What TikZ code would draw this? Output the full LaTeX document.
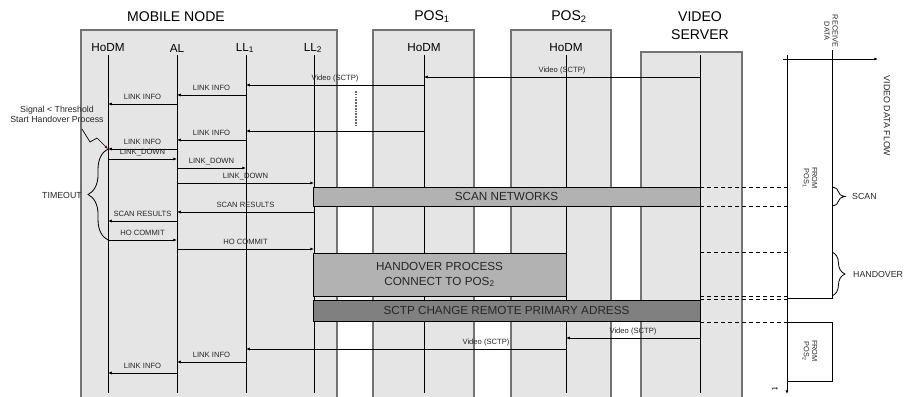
\documentclass[tikz,border=0pt]{standalone}
\usepackage{fontspec}
\setmainfont{Liberation Sans}
\usetikzlibrary{arrows.meta,decorations.pathreplacing}

\begin{document}
\begin{tikzpicture}[
    x=0.03cm,
    y=-0.03cm,
    >={Latex[length=3.2pt,width=2.6pt]},
    actor/.style={
        font=\fontsize{12}{15.4}\selectfont,
        align=center,
        inner sep=0pt
    },
    lifehead/.style={
        font=\fontsize{10}{11}\selectfont,
        inner sep=0pt
    },
    entity/.style={
        draw=black!55,
        line width=1.3pt,
        fill=black!10
    },
    lifeline/.style={
        line width=0.8pt
    },
    msg/.style={
        ->,
        line width=0.7pt
    },
    msglabel/.style={
        font=\fontsize{6.5}{7}\selectfont,
        text=black!85,
        inner sep=0pt,
        anchor=base,
        yshift=4pt
    },
    phasebox/.style={
        draw,
        line width=0.8pt
    },
    phasetext/.style={
        font=\fontsize{10}{12.8}\selectfont,
        align=center,
        text=black!85,
        inner sep=0pt
    },
    remark/.style={
        font=\fontsize{7.5}{8.5}\selectfont,
        align=center,
        text=black!85,
        inner sep=0pt
    },
    vlabel/.style={
        font=\fontsize{6.3}{7}\selectfont,
        align=center,
        text=black!85,
        rotate=-90,
        inner sep=0pt
    },
    flow/.style={
        dashed,
        line width=0.7pt
    },
    pause/.style={
        densely dotted,
        line width=1.4pt,
        black!60
    },
    timebrace/.style={
        decorate,
        decoration={brace, amplitude=#1},
        line width=0.7pt
    }
]

\useasboundingbox (0,0) rectangle (904,397);

\draw[entity] (81,30) rectangle (337,402);
\draw[entity] (373,30) rectangle (474,402);
\draw[entity] (511,30) rectangle (611,402);
\draw[entity] (641,52) rectangle (742,402);

\node[actor] (mobile) at (176,17) {MOBILE NODE};
\node[actor] (pos1) at (432,17) {POS\textsubscript{1}};
\node[actor] (pos2) at (569,17) {POS\textsubscript{2}};
\node[actor] (server) at (700,26) {VIDEO\\SERVER};

\coordinate (hodm) at (108,55);
\coordinate (al) at (177,55);
\coordinate (ll1) at (246,55);
\coordinate (ll2) at (314,55);
\coordinate (hodmA) at (424,55);
\coordinate (hodmB) at (566,55);
\coordinate (vs) at (700,55);

\node[lifehead] (hodmlbl) at (108,48) {HoDM};
\node[lifehead] (allbl) at (177,48) {AL};
\node[lifehead] (ll1lbl) at (245,48) {LL\textsubscript{1}};
\node[lifehead] (ll2lbl) at (313,48) {LL\textsubscript{2}};
\node[lifehead] (hodmAlbl) at (424,48) {HoDM};
\node[lifehead] (hodmBlbl) at (566,48) {HoDM};

\foreach \p in {hodm,al,ll1,ll2,hodmA,hodmB,vs}
    \draw[lifeline] (\p) -- (\p |- 0,393);

\draw[phasebox, fill=black!30] (313,187) rectangle (700,206);
\node[phasetext] (scan) at (506.5,196.5) {SCAN NETWORKS};

\draw[phasebox, fill=black!30] (313,253) rectangle (566,296);
\node[phasetext] (handover) at (439.5,274.5)
{HANDOVER PROCESS\\CONNECT TO POS\textsubscript{2}};

\draw[phasebox, fill=black!50] (313,300) rectangle (700,321);
\node[phasetext] (sctp) at (506.5,310.5)
{SCTP CHANGE REMOTE PRIMARY ADRESS};

\draw[msg] (vs |- 0,77) -- node[msglabel] {Video (SCTP)} (hodmA |- 0,77);
\draw[msg] (hodmA |- 0,85) -- node[msglabel] {Video (SCTP)} (ll1 |- 0,85);
\draw[msg] (ll1 |- 0,95) -- node[msglabel] {LINK INFO} (al |- 0,95);
\draw[msg] (al |- 0,104) -- node[msglabel] {LINK INFO} (hodm |- 0,104);

\draw[pause] (356,91) -- (356,125);

\draw[msg] (hodmA |- 0,131) -- (ll1 |- 0,131);
\draw[msg] (ll1 |- 0,140) -- node[msglabel] {LINK INFO} (al |- 0,140);
\draw[msg] (al |- 0,149) -- node[msglabel] {LINK INFO} (hodm |- 0,149);
\draw[msg] (hodm |- 0,159) -- node[msglabel] {LINK\_DOWN} (al |- 0,159);
\draw[msg] (al |- 0,168) -- node[msglabel] {LINK\_DOWN} (ll1 |- 0,168);
\draw[msg] (al |- 0,183) -- node[msglabel] {LINK\_DOWN} (ll2 |- 0,183);
\draw[msg] (ll2 |- 0,212) -- node[msglabel] {SCAN RESULTS} (al |- 0,212);
\draw[msg] (al |- 0,221) -- node[msglabel] {SCAN RESULTS} (hodm |- 0,221);
\draw[msg] (hodm |- 0,240) -- node[msglabel] {HO COMMIT} (al |- 0,240);
\draw[msg] (al |- 0,249) -- node[msglabel] {HO COMMIT} (ll2 |- 0,249);

\draw[msg] (vs |- 0,338) -- node[msglabel] {Video (SCTP)} (hodmB |- 0,338);
\draw[msg] (hodmB |- 0,349) -- node[msglabel, pos=0.25] {Video (SCTP)} (ll1 |- 0,349);
\draw[msg] (ll1 |- 0,362) -- node[msglabel] {LINK INFO} (al |- 0,362);
\draw[msg] (al |- 0,373) -- node[msglabel] {LINK INFO} (hodm |- 0,373);

\node[remark] (signal) at (57,114) {Signal < Threshold\\Start Handover Process};
\coordinate (zigstart) at (82,129);
\draw[-{Latex[length=3pt,width=2.6pt,color=red!60!black]}, line width=0.6pt]
(zigstart) -- (90,142) -- (97,138) -- (hodm |- 0,149);

\draw[timebrace=17pt] (hodm |- 0,240) -- (hodm |- 0,149);
\node[remark] (timeout) at (62,195) {TIMEOUT};

\coordinate (tTop) at (787,55);
\coordinate (tEnd) at (787,394);
\coordinate (fStart) at (783,59);
\coordinate (fEnd) at (878,59);
\coordinate (recvTop) at (832,50);

\foreach \y in {187,206,252,296,299,322}
    \draw[flow] (vs |- 0,\y) -- (tTop |- 0,\y);

\draw[->, line width=0.8pt] (tTop) -- (tEnd);
\draw[->, line width=0.8pt] (fStart) -- (fEnd);
\draw[line width=0.8pt] (recvTop) -- (recvTop |- 0,298) -- (tTop |- 0,298);
\draw[line width=0.8pt] (tTop |- 0,322) rectangle (832,381);

\node[vlabel] (recv) at (831,31) {RECEIVE\\DATA};
\node[vlabel, font=\fontsize{7.6}{9}\selectfont] (videoflow) at (887,116) {VIDEO DATA FLOW};
\node[vlabel] (from1) at (810,178) {FROM\\POS\textsubscript{1}};
\node[vlabel] (from2) at (810,351) {FROM\\POS\textsubscript{2}};
\node[vlabel, font=\fontsize{8}{9}\selectfont] (t) at (775,389) {t};

\draw[timebrace=11pt] (recvTop |- 0,187) -- (recvTop |- 0,206);
\node[remark, anchor=west] (scanlbl) at (852,196) {SCAN};
\draw[timebrace=11pt] (recvTop |- 0,252) -- (recvTop |- 0,296);
\node[remark, anchor=west] (holbl) at (853,274) {HANDOVER};

\end{tikzpicture}
\end{document}
